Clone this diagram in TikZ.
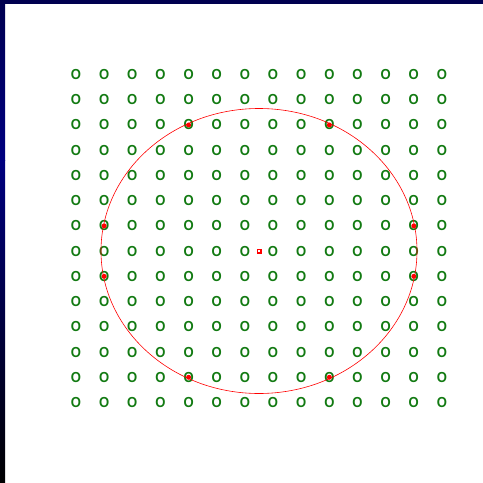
\documentclass[tikz,border=0pt]{standalone}
\usepackage{fontspec}
\setmainfont{Liberation Sans}
\begin{document}
\begin{tikzpicture}[x=1pt,y=-1pt,
  gridO/.style={text=gridgreen,font=\fontsize{14.5}{15}\selectfont\bfseries,inner sep=0pt},
  hitdot/.style={circle,fill=red,inner sep=0pt,minimum size=5pt},
  fitline/.style={draw=red,line width=0.6pt}]
\definecolor{gridgreen}{HTML}{127A12}
\definecolor{navytop}{HTML}{000050}
\definecolor{navymid}{HTML}{000080}
\useasboundingbox (0,0) rectangle (483,483);
\fill[white] (0,0) rectangle (483,483);
% frame bands
\shade[top color=navytop,bottom color=navymid] (0,0) rectangle (5,160);
\shade[top color=navymid,bottom color=black] (0,160) rectangle (5,483);
\fill[navytop] (0,0) rectangle (483,4);
% grid of O
\foreach \i in {0,...,13}{
  \foreach \j in {0,...,13}{
    \node[gridO] (o-\i-\j) at ({76+\i*28.15},{74.5+\j*25.23}) {\scalebox{0.9}[1]{O}};
  }
}
% fitted ellipse
\node (c) at (259,251) {};
\draw[fitline] (c.center) ellipse [x radius=158, y radius=142.5];
% hits
\foreach \i/\j in {4/2,9/2,1/6,12/6,1/8,12/8,4/12,9/12}{
  \node[hitdot] at (o-\i-\j.center) {};
}
% centre marker
\fill[red] (256.5,248.5) rectangle (261.5,253.5);
\fill[white] (258.3,250.3) rectangle (259.7,251.7);
\end{tikzpicture}
\end{document}
